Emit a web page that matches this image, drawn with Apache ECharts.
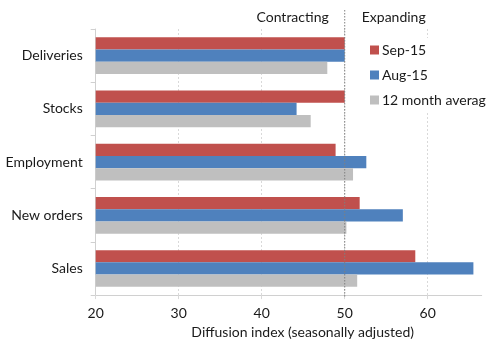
<!DOCTYPE html>
<html>
<head>
<meta charset="utf-8">
<style>
  html, body { margin: 0; padding: 0; background: #fff; }
  #chart { width: 489px; height: 344px; }
</style>
<script src="https://cdn.jsdelivr.net/npm/echarts@6/dist/echarts.min.js"></script>
</head>
<body>
<div id="chart"></div>
<script>
// Survey components, top to bottom
const categories = ['Deliveries', 'Stocks', 'Employment', 'New orders', 'Sales'];
const seriesNames = ['Sep-15', 'Aug-15', '12 month averag'];
const sep15 = [50.0, 50.0, 48.9, 51.8, 58.5];
const aug15 = [50.0, 44.2, 52.6, 57.0, 65.5];
const avg12 = [47.9, 45.9, 51.0, 50.2, 51.5];
const xTicks = [20, 30, 40, 50, 60];
const threshold = 50;

const FONT = 'Lato, "Noto Sans", sans-serif';
const colors = ['#C0504D', '#4F81BD', '#BFBFBF'];

const chart = echarts.init(document.getElementById('chart'), null, { renderer: 'canvas' });

const option = {
  animation: false,
  textStyle: { fontFamily: FONT },
  grid: { left: 95.7, right: 7.3, top: 29, bottom: 47, containLabel: false },
  legend: {
    orient: 'vertical',
    left: 366,
    top: 38,
    padding: [4, 4, 4, 4],
    backgroundColor: '#fff',
    itemWidth: 9,
    itemHeight: 9,
    itemGap: 9,
    icon: 'rect',
    data: seriesNames,
    textStyle: { fontFamily: FONT, fontSize: 14, color: '#1a1a1a', lineHeight: 16, padding: [0, 0, 0, -2] }
  },
  xAxis: {
    type: 'value',
    min: xTicks[0],
    max: 66.5,
    interval: 10,
    name: 'Diffusion index (seasonally adjusted)',
    nameLocation: 'middle',
    nameGap: 27,
    nameTextStyle: { fontFamily: FONT, fontSize: 14, color: '#1a1a1a', padding: [0, 0, 0, 28] },
    axisLine: { show: true, lineStyle: { color: '#D0D0D0', width: 1 } },
    axisTick: { show: true, length: 4, lineStyle: { color: '#D9D9D9' } },
    axisLabel: {
      fontFamily: FONT, fontSize: 14, color: '#1a1a1a', margin: 11,
      showMaxLabel: false,
      formatter: v => (xTicks.indexOf(v) >= 0 ? String(v) : '')
    },
    splitLine: {
      show: true,
      showMinLine: false,
      showMaxLine: false,
      lineStyle: { color: '#D9D9D9', type: [2, 2], width: 1 }
    }
  },
  yAxis: {
    type: 'category',
    data: categories,
    inverse: true,
    axisLine: { show: true, lineStyle: { color: '#D0D0D0', width: 1 } },
    axisTick: { show: true, length: 5, lineStyle: { color: '#D0D0D0' } },
    axisLabel: { fontFamily: FONT, fontSize: 14, color: '#1a1a1a', margin: 13 },
    splitLine: { show: false }
  },
  series: [
    { name: seriesNames[0], type: 'bar', data: sep15, itemStyle: { color: colors[0] }, barGap: '0%', barCategoryGap: '31%' },
    { name: seriesNames[1], type: 'bar', data: aug15, itemStyle: { color: colors[1] }, barGap: '0%', barCategoryGap: '31%' },
    { name: seriesNames[2], type: 'bar', data: avg12, itemStyle: { color: colors[2] }, barGap: '0%', barCategoryGap: '31%' }
  ]
};

chart.setOption(option);

// Threshold line at 50 with the contracting / expanding captions above the plot
const px = chart.convertToPixel({ xAxisIndex: 0 }, threshold);
const bottomY = chart.convertToPixel({ yAxisIndex: 0 }, categories[categories.length - 1]);
const gridBottom = 344 - option.grid.bottom;
chart.setOption({
  graphic: [
    {
      type: 'line',
      shape: { x1: px, y1: 10, x2: px, y2: gridBottom },
      style: { stroke: '#7F7F7F', lineWidth: 1, lineDash: [1.5, 1.5] },
      z: 100
    },
    {
      type: 'text',
      x: px - 16, y: 17,
      style: { text: 'Contracting', fontFamily: FONT, fontSize: 14, fill: '#1a1a1a', align: 'right', verticalAlign: 'middle' },
      z: 100
    },
    {
      type: 'text',
      x: px + 17, y: 17,
      style: { text: 'Expanding', fontFamily: FONT, fontSize: 14, fill: '#1a1a1a', align: 'left', verticalAlign: 'middle' },
      z: 100
    }
  ]
});
</script>
</body>
</html>
